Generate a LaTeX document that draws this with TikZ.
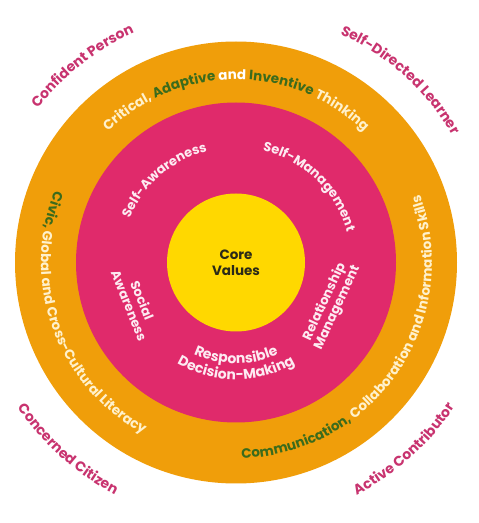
\documentclass[tikz,border=0pt]{standalone}
\usepackage{fontspec}
\setmainfont{Poppins}
\usetikzlibrary{calc,decorations.text}

\definecolor{ringorange}{HTML}{F09E0A}
\definecolor{ringpink}{HTML}{E02A6B}
\definecolor{coreyellow}{HTML}{FFD800}
\definecolor{leafgreen}{HTML}{3B6B1C}
\definecolor{outcomepink}{HTML}{C8336F}
\definecolor{creamtext}{HTML}{FFF1CC}
\definecolor{softwhite}{HTML}{FDEBF2}
\definecolor{coretext}{HTML}{2B2A18}

\newcommand\outcomefont{\bfseries\fontsize{14}{16}\selectfont}
\newcommand\ringfont{\bfseries\fontsize{13.5}{15}\selectfont}
\newcommand\pinkfont{\bfseries\fontsize{13}{14}\selectfont}
\newcommand\decisionfont{\bfseries\fontsize{14}{15}\selectfont}

\tikzset{
  arctext/.style={decorate,decoration={text along path,text align=center,#1}},
  innerlabel/.style={align=center,text=softwhite,font=\bfseries\fontsize{13}{14}\selectfont}
}

\begin{document}
\begin{tikzpicture}[x=1pt,y=1pt]
		\useasboundingbox (0,0) rectangle (479,523);
		\fill[white] (0,0) rectangle (479,523);
		\coordinate (c) at (236,260.5);
		% rings
		\fill[ringorange] (c) circle (221pt);
		\fill[ringpink] (c) circle (160pt);
		\fill[coreyellow] (c) circle (69pt);
		\node[align=center,text=coretext,font=\bfseries\fontsize{13.5}{16}\selectfont] (core) at (c) {Core\\Values};
		% outcomes
		\path[arctext={text={|\outcomefont\color{outcomepink}|Confident Person}}]
			(c) ++(178:251pt) arc[start angle=178,end angle=78,radius=251pt];
		\path[arctext={text={|\outcomefont\color{outcomepink}|Self-Directed Learner}}]
			(c) ++(98:251pt) arc[start angle=98,end angle=-2,radius=251pt];
		\path[arctext={text={|\outcomefont\color{outcomepink}|Concerned Citizen}}]
			(c) ++(178:262pt) arc[start angle=178,end angle=278,radius=262pt];
		\path[arctext={text={|\outcomefont\color{outcomepink}|Active Contributor}}]
			(c) ++(-98:262pt) arc[start angle=-98,end angle=2,radius=262pt];
		% orange ring
		\path[arctext={text={|\ringfont\color{creamtext}|Critical, |\ringfont\color{leafgreen}|Adaptive |\ringfont\color{white}|and |\ringfont\color{leafgreen}|Inventive |\ringfont\color{creamtext}|Thinking}}]
			(c) ++(180:183pt) arc[start angle=180,end angle=0,radius=183pt];
		\path[arctext={text={|\ringfont\color{leafgreen}|Civic, |\ringfont\color{creamtext}|Global and Cross-Cultural Literacy}}]
			(c) ++(100:195pt) arc[start angle=100,end angle=300,radius=195pt];
		\path[arctext={text={|\ringfont\color{leafgreen}|Communication, |\ringfont\color{creamtext}|Collaboration and Information Skills}}]
			(c) ++(-134:196pt) arc[start angle=-134,end angle=66,radius=196pt];
		% pink ring
		\path[arctext={text={|\pinkfont\color{softwhite}|Self-Awareness}}]
			(c) ++(181:115pt) arc[start angle=181,end angle=81,radius=115pt];
		\path[arctext={text={|\pinkfont\color{softwhite}|Self-Management}}]
			(c) ++(96:115pt) arc[start angle=96,end angle=-4,radius=115pt];
		\path[arctext={text={|\decisionfont\color{softwhite}|Responsible}}]
			(c) ++(220:101pt) arc[start angle=220,end angle=320,radius=101pt];
		\path[arctext={text={|\decisionfont\color{softwhite}|Decision-Making}}]
			(c) ++(220:117pt) arc[start angle=220,end angle=320,radius=117pt];
		\node[innerlabel,rotate=-68] (social) at ($(c)+(202:108pt)$) {Social\\Awareness};
		\node[innerlabel,rotate=65] (relation) at ($(c)+(-24:104pt)$) {Relationship\\Management};
	\end{tikzpicture}
\end{document}
